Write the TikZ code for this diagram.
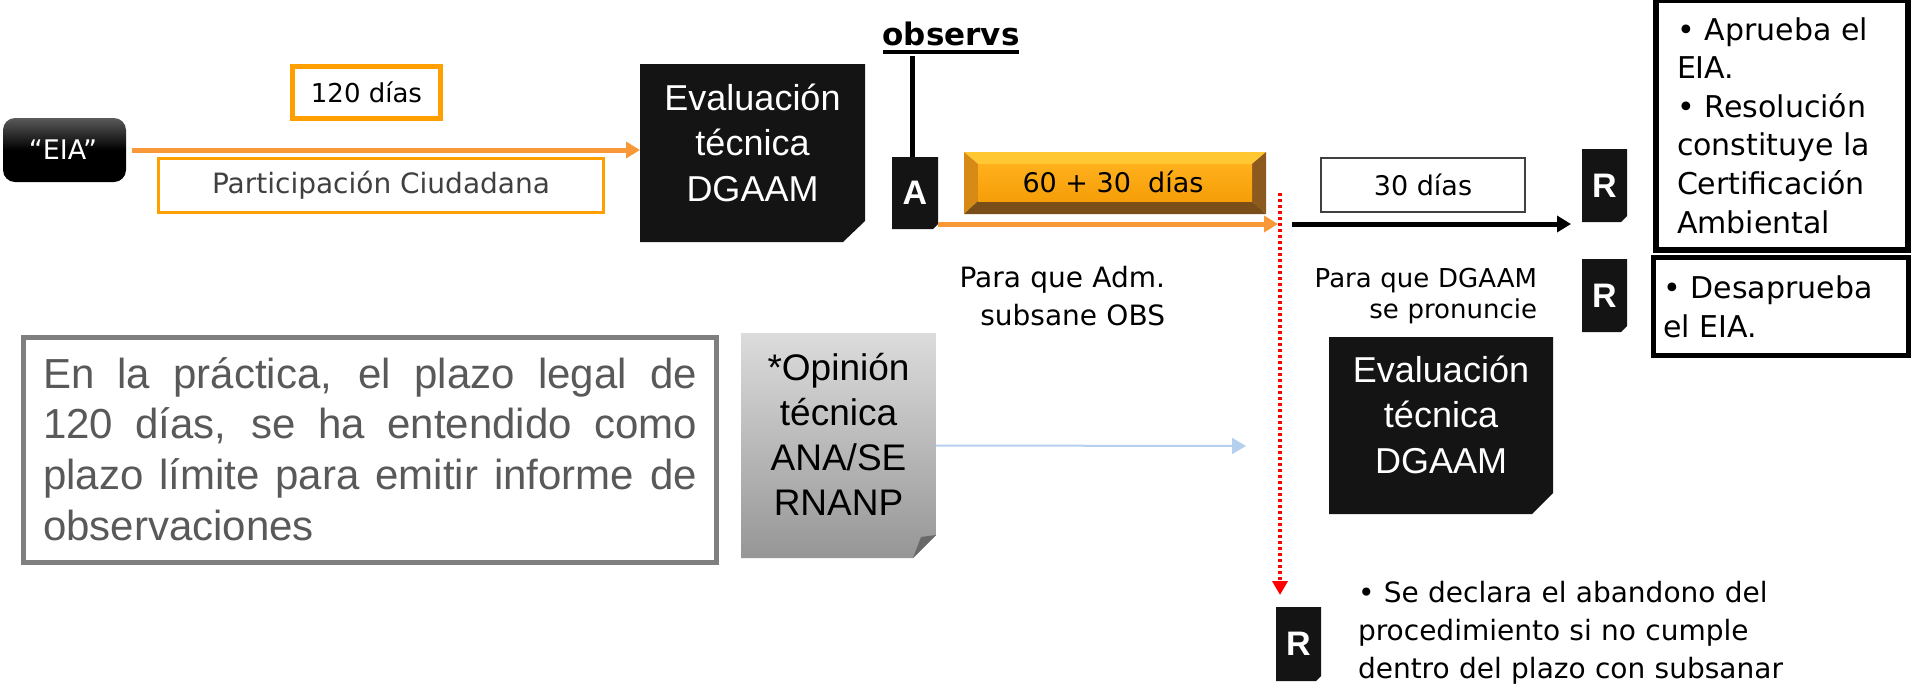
\documentclass[tikz,border=0pt]{standalone}
\usepackage{fontspec}
\setmainfont{DejaVu Sans}
\newfontfamily\arialf{Liberation Sans}
\usetikzlibrary{arrows.meta,calc}
\definecolor{evalblack}{RGB}{20,20,20}
\definecolor{eiatop}{RGB}{90,90,90}
\definecolor{orangeline}{RGB}{248,152,56}
\definecolor{orangebox}{RGB}{255,160,0}
\definecolor{notegray}{RGB}{127,127,127}
\definecolor{notetext}{RGB}{89,89,89}
\definecolor{lightblue}{RGB}{180,208,238}
\definecolor{partext}{RGB}{64,64,64}
\definecolor{boxgray}{RGB}{64,64,64}
\definecolor{opitop}{RGB}{220,220,220}
\definecolor{opibot}{RGB}{150,150,150}
\definecolor{opifold}{RGB}{105,105,105}
\definecolor{bevtop}{RGB}{255,200,50}
\definecolor{bevleft}{RGB}{215,138,22}
\definecolor{bevright}{RGB}{140,90,30}
\definecolor{bevbot}{RGB}{122,78,24}
\definecolor{facetop}{RGB}{255,176,28}
\definecolor{facebot}{RGB}{245,158,8}
\newcommand\mycutfill[4]{\fill[#4] (#1.north west) -- (#1.north east) -- ([yshift=#3pt]#1.south east) -- ([xshift=-#2pt]#1.south east) -- (#1.south west) -- cycle;}
\begin{document}
\begin{tikzpicture}[x=1pt,y=-1pt,
  every node/.style={inner sep=0pt, outer sep=0pt},
  evtxt/.style={font=\arialf\fontsize{36}{45.5}\selectfont, text=white, text width=220pt, align=center, anchor=base},
  ltr/.style={font=\arialf\bfseries\fontsize{34}{40}\selectfont, text=white},
  orarrow/.style={draw=orangeline, line width=5pt, -{Triangle[length=14pt,width=16pt]}},
  blkarrow/.style={draw=black, line width=5pt, -{Triangle[length=14pt,width=16pt]}},
  reddot/.style={draw=red, line width=4pt, dash pattern=on 3pt off 3pt, -{Triangle[length=14pt,width=15pt,fill=red]}},
  bluearrow/.style={draw=lightblue, line width=2pt, -{Triangle[length=14pt,width=16pt]}},
  comictxt/.style={font=\fontsize{28}{38}\selectfont}
]
\useasboundingbox (0,0) rectangle (1913,689);
\fill[white] (0,0) rectangle (1913,689);

% ---------- zones ----------
\node[minimum width=123pt, minimum height=64pt, rounded corners=12pt, top color=eiatop, bottom color=black, middle color=black] (eia) at (64.5,150) {};
\node[text=white, font=\fontsize{27}{30}\selectfont] (eiat) at (63,150) {“EIA”};

\node[draw=orangebox, line width=5pt, minimum width=148pt, minimum height=52pt, font=\fontsize{26}{30}\selectfont] (d120) at (366.5,92.5) {120 días};
\node[draw=orangebox, line width=3pt, minimum width=445pt, minimum height=54pt, text=partext, comictxt] (part) at (381,185.5) {Participación Ciudadana};

\node[minimum width=225pt, minimum height=178pt] (e1) at (752.5,153) {};
\mycutfill{e1}{22}{21}{evalblack}
\node[evtxt] (e1t) at (752.5,110) {Evaluación\\técnica\\DGAAM};

\node[font=\bfseries\fontsize{31}{36}\selectfont, anchor=base] (obs) at (951,45) {observs};
\draw[line width=4pt] ([yshift=-7pt]obs.base west) -- ([yshift=-7pt]obs.base east);

\node[minimum width=46pt, minimum height=72pt] (A) at (915,193) {};
\mycutfill{A}{5}{5}{evalblack}
\node[ltr] (At) at (A.center) {A};
\coordinate (obsfoot) at (912,56);
\draw[line width=5pt] (obsfoot) -- (obsfoot |- A.north);

% bevel bar
\node[minimum width=302pt, minimum height=62pt] (bar) at (1115,183) {};
\fill[bevtop] (bar.north west) -- (bar.north east) -- ($(bar.north east)+(-14,12)$) -- ($(bar.north west)+(14,12)$) -- cycle;
\fill[bevleft] (bar.north west) -- ($(bar.north west)+(14,12)$) -- ($(bar.south west)+(14,-13)$) -- (bar.south west) -- cycle;
\fill[bevright] (bar.north east) -- ($(bar.north east)+(-14,12)$) -- ($(bar.south east)+(-14,-13)$) -- (bar.south east) -- cycle;
\fill[bevbot] (bar.south west) -- ($(bar.south west)+(14,-13)$) -- ($(bar.south east)+(-14,-13)$) -- (bar.south east) -- cycle;
\shade[top color=facetop, bottom color=facebot] ($(bar.north west)+(14,12)$) rectangle ($(bar.south east)+(-14,-13)$);
\node[font=\fontsize{27}{30}\selectfont] (bart) at (1113,182) {60 + 30\ \ días};

\coordinate (jn) at (1278,224);
\coordinate (rtop) at (1280,193);
\coordinate (bks) at (1292,224);

\node[draw=boxgray, line width=2pt, minimum width=204pt, minimum height=54pt, font=\fontsize{27}{30}\selectfont] (d30) at (1423,185) {30 días};

\node[minimum width=45pt, minimum height=73pt] (R1) at (1604.5,185.5) {};
\mycutfill{R1}{6}{6}{evalblack}
\node[ltr] (R1t) at (R1.center) {R};
\node[minimum width=45pt, minimum height=73pt] (R2) at (1604.5,295.5) {};
\mycutfill{R2}{6}{6}{evalblack}
\node[ltr] (R2t) at (R2.center) {R};
\node[minimum width=45pt, minimum height=74pt] (R3) at (1298.5,644) {};
\mycutfill{R3}{5}{5}{evalblack}
\node[ltr] (R3t) at (R3.center) {R};

\node[draw=black, line width=6pt, minimum width=252pt, minimum height=250pt] (rb1) at (1782,125) {};
\node[anchor=base west, text width=228pt, align=left, font=\fontsize{30}{38.6}\selectfont] (rb1t) at (1677,40) {• Aprueba el\\EIA.\\• Resolución\\constituye la\\Certificación\\Ambiental};
\node[draw=black, line width=5pt, minimum width=255pt, minimum height=98pt] (rb2) at (1781,306.5) {};
\node[anchor=base west, text width=240pt, align=left, font=\fontsize{30}{39}\selectfont] (rb2t) at (1663,298) {• Desaprueba\\el EIA.};

\node[anchor=base east, text width=240pt, align=right, comictxt] (pqa) at (1165,287) {Para que Adm.\\ subsane OBS};
\node[anchor=base east, text width=260pt, align=right, font=\fontsize{26}{31}\selectfont] (pqd) at (1537,287) {Para que DGAAM\\se pronuncie};

\node[minimum width=224pt, minimum height=177pt] (e2) at (1441,425.5) {};
\mycutfill{e2}{21}{21}{evalblack}
\node[evtxt] (e2t) at (1441,382) {Evaluación\\técnica\\DGAAM};

\node[anchor=base west, text width=450pt, align=left, comictxt] (sed) at (1358,602) {• Se declara el abandono del\\procedimiento si no cumple\\dentro del plazo con subsanar};

% note box
\node[draw=notegray, line width=5pt, minimum width=693pt, minimum height=225pt] (note) at (370,450) {};
\node[anchor=base west, text width=654pt, align=justify, text=notetext, font=\arialf\fontsize{42}{50.7}\selectfont] (notet) at (43,388) {En la práctica, el plazo legal de\linebreak 120 días, se ha entendido como\linebreak plazo límite para emitir informe de\linebreak observaciones};

% opinion box
\node[minimum width=195pt, minimum height=225pt] (op) at (838.5,445.5) {};
\shade[top color=opitop, bottom color=opibot] (op.north west) -- (op.north east) -- ([yshift=23pt]op.south east) -- ([xshift=-23pt]op.south east) -- (op.south west) -- cycle;
\fill[opifold] ([xshift=-23pt]op.south east) -- ([yshift=23pt]op.south east) -- ([xshift=-15pt,yshift=21pt]op.south east) -- cycle;
\node[anchor=base, text width=190pt, align=center, font=\arialf\fontsize{37}{45}\selectfont] (opt) at (838.5,380) {*Opinión\\técnica\\ANA/SE\\RNANP};
\coordinate (btip) at (1246,446);

% ---------- connectors ----------
\draw[orarrow, shorten <=6pt] (eia.east) -- (eia.east -| e1.west);
\draw[orarrow] ([yshift=5pt]A.south east) -- (jn);
\draw[reddot, shorten >=12pt] (rtop) -- (rtop |- R3.north);
\draw[blkarrow, shorten >=11pt] (bks) -- (bks -| R1.west);
\draw[bluearrow] (op.east) -- (btip);
\end{tikzpicture}
\end{document}
